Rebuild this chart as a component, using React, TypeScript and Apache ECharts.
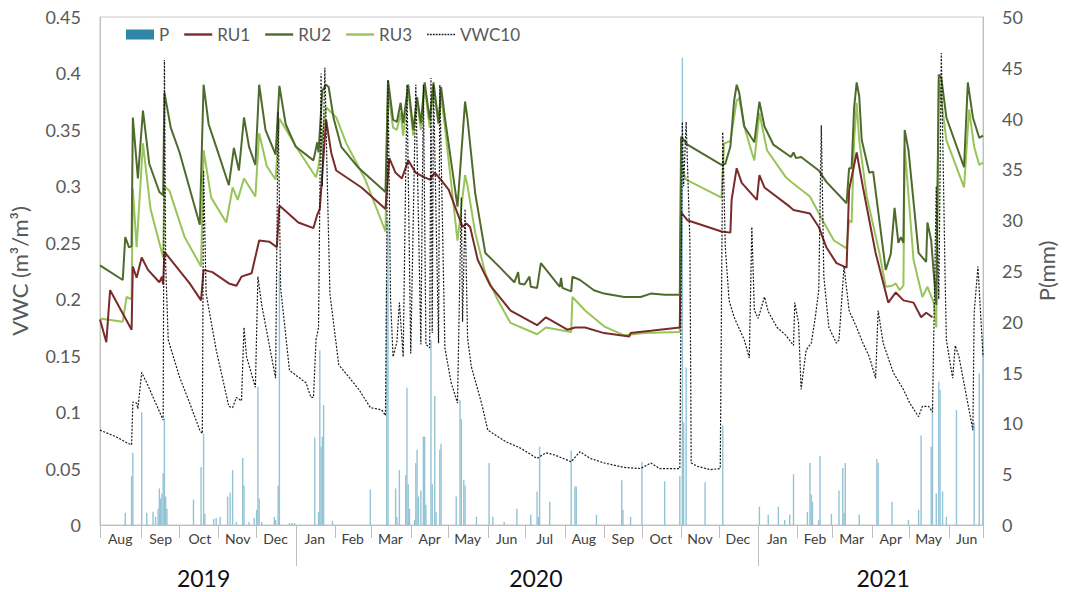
import React, { useEffect, useRef } from "react";
import * as echarts from "echarts";

type Pt = [string, number];

// ---------- data ----------
const monthNames = ["Jan", "Feb", "Mar", "Apr", "May", "Jun", "Jul", "Aug", "Sep", "Oct", "Nov", "Dec"];
const axisStart = "2019-07-30";
const axisEnd = "2021-06-28";
const monthTicks = [
  "2019-07-30", "2019-09-01", "2019-10-01", "2019-11-01", "2019-12-01", "2020-02-01", "2020-03-01",
  "2020-04-01", "2020-05-01", "2020-06-01", "2020-07-01", "2020-08-01", "2020-09-01", "2020-10-01",
  "2020-11-01", "2020-12-01", "2021-02-01", "2021-03-01", "2021-04-01", "2021-05-01", "2021-06-01", "2021-06-28",
];
const monthLabels = [
  "2019-08-15", "2019-09-16", "2019-10-17", "2019-11-16", "2019-12-16", "2020-01-16", "2020-02-15",
  "2020-03-16", "2020-04-16", "2020-05-16", "2020-06-16", "2020-07-16", "2020-08-16", "2020-09-16",
  "2020-10-16", "2020-11-16", "2020-12-16", "2021-01-16", "2021-02-15", "2021-03-16", "2021-04-16",
  "2021-05-16", "2021-06-15",
];
const yearTicks = ["2020-01-01", "2021-01-01"];
const yearLabels: Pt[] = [["2019-10-20", 2019], ["2020-07-09", 2020], ["2021-04-10", 2021]];

const P: Pt[] = [
  ["2019-08-19", 1.2], ["2019-08-24", 4.8], ["2019-08-25", 7.1], ["2019-09-01", 11.1], ["2019-09-05", 1.2],
  ["2019-09-10", 1.3], ["2019-09-12", 0.8], ["2019-09-14", 1.6], ["2019-09-15", 3.6], ["2019-09-16", 2.6],
  ["2019-09-17", 3.1], ["2019-09-18", 5.1], ["2019-09-19", 10.5], ["2019-09-20", 2.8], ["2019-09-21", 1.6],
  ["2019-10-12", 2.5], ["2019-10-18", 5.7], ["2019-10-20", 9.0], ["2019-10-21", 1.1], ["2019-10-28", 0.6],
  ["2019-10-30", 0.7], ["2019-11-02", 0.8], ["2019-11-08", 2.8], ["2019-11-10", 3.2], ["2019-11-12", 5.4],
  ["2019-11-15", 0.3], ["2019-11-20", 6.6], ["2019-11-21", 3.9], ["2019-11-25", 0.3], ["2019-11-29", 0.7],
  ["2019-12-01", 1.5], ["2019-12-02", 13.6], ["2019-12-03", 2.6], ["2019-12-05", 0.3], ["2019-12-15", 0.8],
  ["2019-12-16", 0.5], ["2019-12-18", 3.9], ["2019-12-19", 25], ["2019-12-27", 0.2], ["2019-12-29", 0.2],
  ["2019-12-31", 0.2], ["2020-01-16", 8.6], ["2020-01-19", 1.3], ["2020-01-20", 17.2], ["2020-01-21", 7.7],
  ["2020-01-22", 8.7], ["2020-01-23", 11.8], ["2020-01-30", 0.4], ["2020-02-29", 3.5], ["2020-03-13", 24],
  ["2020-03-14", 30], ["2020-03-20", 3.6], ["2020-03-21", 0.8], ["2020-03-23", 5.4], ["2020-03-28", 4.9],
  ["2020-03-29", 13.5], ["2020-03-30", 4.0], ["2020-03-31", 1.6], ["2020-04-04", 0.5], ["2020-04-05", 6.1],
  ["2020-04-06", 7.4], ["2020-04-07", 2.8], ["2020-04-09", 3.4], ["2020-04-11", 8.7], ["2020-04-12", 8.7],
  ["2020-04-13", 2.0], ["2020-04-17", 18.2], ["2020-04-18", 4.0], ["2020-04-20", 12.7], ["2020-04-21", 1.3],
  ["2020-04-24", 7.4], ["2020-04-25", 8.0], ["2020-05-07", 2.8], ["2020-05-10", 12.3], ["2020-05-11", 10.4],
  ["2020-05-13", 4.4], ["2020-05-14", 3.9], ["2020-05-23", 0.8], ["2020-06-02", 6.1], ["2020-06-05", 0.8],
  ["2020-06-14", 0.3], ["2020-06-24", 1.6], ["2020-07-05", 1.0], ["2020-07-10", 3.3], ["2020-07-11", 0.8],
  ["2020-07-12", 7.7], ["2020-07-20", 2.3], ["2020-08-06", 7.3], ["2020-08-09", 3.8], ["2020-08-10", 3.8],
  ["2020-08-26", 1.0], ["2020-09-15", 4.4], ["2020-09-16", 1.5], ["2020-09-22", 0.8], ["2020-10-01", 6.2],
  ["2020-10-19", 4.3], ["2020-10-31", 4.8], ["2020-11-02", 46], ["2020-11-03", 10.1], ["2020-11-05", 15.5],
  ["2020-11-20", 4.2], ["2020-12-04", 9.8], ["2021-01-02", 1.8], ["2021-01-09", 1.0], ["2021-01-17", 1.8],
  ["2021-01-22", 0.5], ["2021-01-26", 1.0], ["2021-01-29", 5.0], ["2021-02-09", 1.3], ["2021-02-11", 6.1],
  ["2021-02-12", 3.0], ["2021-02-13", 2.3], ["2021-02-18", 0.5], ["2021-02-19", 6.8], ["2021-02-28", 1.1],
  ["2021-03-06", 3.4], ["2021-03-09", 5.6], ["2021-03-10", 1.2], ["2021-03-11", 6.1], ["2021-03-22", 1.0],
  ["2021-04-05", 6.5], ["2021-04-06", 6.1], ["2021-04-17", 2.3], ["2021-04-30", 0.5], ["2021-05-08", 1.5],
  ["2021-05-10", 8.8], ["2021-05-18", 7.7], ["2021-05-19", 11.8], ["2021-05-22", 3.1], ["2021-05-24", 14.1],
  ["2021-05-25", 13.3], ["2021-05-27", 3.3], ["2021-05-30", 0.8], ["2021-06-07", 11.3], ["2021-06-21", 10.1],
  ["2021-06-25", 14.9], ["2021-06-28", 18.4],
];

const RU1: Pt[] = [
  ["2019-07-30", 0.182], ["2019-08-04", 0.162], ["2019-08-07", 0.208], ["2019-08-24", 0.173], ["2019-08-25", 0.229],
  ["2019-08-28", 0.219], ["2019-09-01", 0.237], ["2019-09-06", 0.226], ["2019-09-15", 0.215], ["2019-09-17", 0.22],
  ["2019-09-18", 0.213], ["2019-09-19", 0.242], ["2019-10-09", 0.214], ["2019-10-18", 0.199], ["2019-10-20", 0.226],
  ["2019-10-27", 0.224], ["2019-11-09", 0.214], ["2019-11-15", 0.212], ["2019-11-19", 0.22], ["2019-11-27", 0.223],
  ["2019-12-03", 0.252], ["2019-12-11", 0.251], ["2019-12-17", 0.246], ["2019-12-19", 0.283], ["2020-01-03", 0.268],
  ["2020-01-15", 0.263], ["2020-01-18", 0.275], ["2020-01-20", 0.28], ["2020-01-25", 0.359], ["2020-01-29", 0.33],
  ["2020-02-02", 0.314], ["2020-02-22", 0.299], ["2020-03-12", 0.28], ["2020-03-15", 0.325], ["2020-03-20", 0.312],
  ["2020-03-25", 0.307], ["2020-03-30", 0.323], ["2020-04-05", 0.312], ["2020-04-12", 0.308], ["2020-04-16", 0.306],
  ["2020-04-20", 0.312], ["2020-04-24", 0.307], ["2020-05-01", 0.297], ["2020-05-08", 0.276], ["2020-05-12", 0.264],
  ["2020-05-15", 0.267], ["2020-05-18", 0.264], ["2020-05-24", 0.235], ["2020-06-03", 0.212], ["2020-06-19", 0.19],
  ["2020-07-10", 0.177], ["2020-07-17", 0.184], ["2020-08-03", 0.173], ["2020-08-09", 0.175], ["2020-08-17", 0.175],
  ["2020-09-01", 0.17], ["2020-09-21", 0.167], ["2020-09-22", 0.17], ["2020-10-08", 0.172], ["2020-10-31", 0.175],
  ["2020-11-01", 0.277], ["2020-11-06", 0.27], ["2020-12-03", 0.26], ["2020-12-10", 0.259], ["2020-12-11", 0.288],
  ["2020-12-15", 0.316], ["2020-12-19", 0.303], ["2020-12-31", 0.288], ["2021-01-02", 0.31], ["2021-01-06", 0.299],
  ["2021-01-26", 0.282], ["2021-01-29", 0.279], ["2021-02-11", 0.276], ["2021-02-18", 0.264], ["2021-02-24", 0.246],
  ["2021-03-04", 0.232], ["2021-03-12", 0.228], ["2021-03-14", 0.297], ["2021-03-20", 0.33], ["2021-03-25", 0.299],
  ["2021-04-04", 0.241], ["2021-04-14", 0.197], ["2021-04-20", 0.206], ["2021-04-26", 0.199], ["2021-05-04", 0.197],
  ["2021-05-10", 0.184], ["2021-05-14", 0.188], ["2021-05-19", 0.184],
];

const RU2: Pt[] = [
  ["2019-07-30", 0.23], ["2019-08-17", 0.217], ["2019-08-19", 0.255], ["2019-08-22", 0.246], ["2019-08-24", 0.247],
  ["2019-08-25", 0.361], ["2019-08-29", 0.307], ["2019-09-02", 0.367], ["2019-09-07", 0.32], ["2019-09-15", 0.295],
  ["2019-09-18", 0.292], ["2019-09-19", 0.383], ["2019-09-24", 0.352], ["2019-10-01", 0.33], ["2019-10-17", 0.266],
  ["2019-10-20", 0.39], ["2019-10-24", 0.355], ["2019-10-30", 0.335], ["2019-11-09", 0.301], ["2019-11-13", 0.334],
  ["2019-11-17", 0.314], ["2019-11-21", 0.361], ["2019-11-25", 0.335], ["2019-11-30", 0.319], ["2019-12-03", 0.39],
  ["2019-12-08", 0.35], ["2019-12-16", 0.328], ["2019-12-19", 0.389], ["2019-12-24", 0.355], ["2020-01-01", 0.335],
  ["2020-01-15", 0.323], ["2020-01-18", 0.339], ["2020-01-19", 0.33], ["2020-01-22", 0.385], ["2020-01-25", 0.39],
  ["2020-01-27", 0.388], ["2020-01-31", 0.36], ["2020-02-06", 0.335], ["2020-02-20", 0.316], ["2020-03-12", 0.295],
  ["2020-03-14", 0.394], ["2020-03-18", 0.359], ["2020-03-21", 0.357], ["2020-03-24", 0.374], ["2020-03-26", 0.356],
  ["2020-03-30", 0.39], ["2020-04-03", 0.35], ["2020-04-06", 0.379], ["2020-04-09", 0.356], ["2020-04-12", 0.392],
  ["2020-04-16", 0.359], ["2020-04-19", 0.392], ["2020-04-23", 0.356], ["2020-04-25", 0.388], ["2020-04-28", 0.361],
  ["2020-05-08", 0.282], ["2020-05-14", 0.375], ["2020-05-16", 0.359], ["2020-05-22", 0.294], ["2020-05-30", 0.241],
  ["2020-06-09", 0.23], ["2020-06-22", 0.215], ["2020-06-25", 0.224], ["2020-06-26", 0.214], ["2020-06-30", 0.213],
  ["2020-07-04", 0.22], ["2020-07-05", 0.211], ["2020-07-10", 0.21], ["2020-07-13", 0.232], ["2020-07-28", 0.211],
  ["2020-07-29", 0.219], ["2020-07-30", 0.21], ["2020-08-06", 0.207], ["2020-08-07", 0.22], ["2020-08-13", 0.217],
  ["2020-08-24", 0.208], ["2020-09-01", 0.205], ["2020-09-17", 0.202], ["2020-09-30", 0.202], ["2020-10-08", 0.205],
  ["2020-10-19", 0.204], ["2020-10-31", 0.204], ["2020-11-01", 0.344], ["2020-11-06", 0.337], ["2020-12-03", 0.319],
  ["2020-12-06", 0.32], ["2020-12-10", 0.335], ["2020-12-13", 0.376], ["2020-12-15", 0.39], ["2020-12-17", 0.383],
  ["2020-12-21", 0.353], ["2020-12-29", 0.339], ["2021-01-02", 0.375], ["2021-01-06", 0.353], ["2021-01-13", 0.337],
  ["2021-01-27", 0.326], ["2021-01-29", 0.33], ["2021-01-31", 0.325], ["2021-02-04", 0.326], ["2021-02-18", 0.314],
  ["2021-02-24", 0.304], ["2021-03-12", 0.285], ["2021-03-14", 0.316], ["2021-03-16", 0.316], ["2021-03-18", 0.37],
  ["2021-03-20", 0.392], ["2021-03-22", 0.38], ["2021-03-24", 0.341], ["2021-03-30", 0.312], ["2021-04-02", 0.313],
  ["2021-04-12", 0.226], ["2021-04-16", 0.24], ["2021-04-19", 0.281], ["2021-04-22", 0.25], ["2021-04-24", 0.255],
  ["2021-04-26", 0.25], ["2021-04-27", 0.35], ["2021-04-30", 0.332], ["2021-05-08", 0.241], ["2021-05-14", 0.233],
  ["2021-05-15", 0.268], ["2021-05-18", 0.252], ["2021-05-20", 0.223], ["2021-05-22", 0.195], ["2021-05-24", 0.399],
  ["2021-05-26", 0.396], ["2021-05-30", 0.361], ["2021-06-13", 0.317], ["2021-06-16", 0.392], ["2021-06-20", 0.361],
  ["2021-06-25", 0.343], ["2021-06-28", 0.345],
];

const RU3: Pt[] = [
  ["2019-07-30", 0.183], ["2019-08-17", 0.18], ["2019-08-20", 0.202], ["2019-08-24", 0.2], ["2019-08-25", 0.298],
  ["2019-08-28", 0.246], ["2019-09-02", 0.338], ["2019-09-08", 0.28], ["2019-09-18", 0.237], ["2019-09-19", 0.3],
  ["2019-09-23", 0.296], ["2019-10-05", 0.255], ["2019-10-18", 0.229], ["2019-10-20", 0.332], ["2019-10-26", 0.29],
  ["2019-11-07", 0.268], ["2019-11-12", 0.299], ["2019-11-16", 0.288], ["2019-11-21", 0.307], ["2019-11-30", 0.291],
  ["2019-12-03", 0.347], ["2019-12-09", 0.318], ["2019-12-16", 0.306], ["2019-12-19", 0.36], ["2020-01-03", 0.332],
  ["2020-01-17", 0.308], ["2020-01-19", 0.318], ["2020-01-25", 0.37], ["2020-02-02", 0.361], ["2020-02-10", 0.338],
  ["2020-02-25", 0.306], ["2020-03-12", 0.26], ["2020-03-14", 0.385], ["2020-03-18", 0.352], ["2020-03-21", 0.35],
  ["2020-03-24", 0.365], ["2020-03-26", 0.345], ["2020-03-30", 0.385], ["2020-04-03", 0.345], ["2020-04-06", 0.375],
  ["2020-04-09", 0.35], ["2020-04-12", 0.388], ["2020-04-16", 0.352], ["2020-04-19", 0.388], ["2020-04-23", 0.355],
  ["2020-04-25", 0.38], ["2020-04-28", 0.353], ["2020-05-08", 0.252], ["2020-05-14", 0.31], ["2020-05-16", 0.3],
  ["2020-05-22", 0.259], ["2020-05-30", 0.223], ["2020-06-09", 0.199], ["2020-06-19", 0.179], ["2020-07-10", 0.169],
  ["2020-07-17", 0.175], ["2020-08-06", 0.171], ["2020-08-07", 0.202], ["2020-08-17", 0.19], ["2020-09-01", 0.176],
  ["2020-09-17", 0.168], ["2020-10-03", 0.17], ["2020-10-31", 0.171], ["2020-11-01", 0.317], ["2020-11-05", 0.306],
  ["2020-12-03", 0.29], ["2020-12-05", 0.338], ["2020-12-10", 0.34], ["2020-12-15", 0.376], ["2020-12-17", 0.378],
  ["2020-12-21", 0.353], ["2020-12-27", 0.33], ["2020-12-29", 0.323], ["2021-01-02", 0.365], ["2021-01-08", 0.332],
  ["2021-01-23", 0.308], ["2021-01-27", 0.304], ["2021-02-11", 0.291], ["2021-02-22", 0.268], ["2021-03-02", 0.252],
  ["2021-03-12", 0.245], ["2021-03-14", 0.27], ["2021-03-16", 0.268], ["2021-03-18", 0.341], ["2021-03-20", 0.374],
  ["2021-03-22", 0.341], ["2021-03-28", 0.291], ["2021-04-07", 0.241], ["2021-04-12", 0.211], ["2021-04-17", 0.212],
  ["2021-04-20", 0.214], ["2021-04-23", 0.208], ["2021-04-26", 0.212], ["2021-04-27", 0.335], ["2021-05-04", 0.235],
  ["2021-05-11", 0.202], ["2021-05-15", 0.211], ["2021-05-20", 0.197], ["2021-05-22", 0.175], ["2021-05-24", 0.394],
  ["2021-05-30", 0.341], ["2021-06-13", 0.299], ["2021-06-17", 0.368], ["2021-06-21", 0.335], ["2021-06-25", 0.319],
  ["2021-06-28", 0.321],
];

const VWC10: Pt[] = [
  ["2019-07-30", 0.084], ["2019-08-12", 0.078], ["2019-08-20", 0.073], ["2019-08-24", 0.071], ["2019-08-25", 0.109],
  ["2019-08-28", 0.108], ["2019-08-29", 0.103], ["2019-09-01", 0.135], ["2019-09-05", 0.126], ["2019-09-18", 0.093],
  ["2019-09-19", 0.412], ["2019-09-20", 0.23], ["2019-09-22", 0.164], ["2019-10-01", 0.131], ["2019-10-09", 0.108],
  ["2019-10-17", 0.084], ["2019-10-19", 0.081], ["2019-10-20", 0.314], ["2019-10-22", 0.205], ["2019-10-30", 0.155],
  ["2019-11-09", 0.105], ["2019-11-12", 0.104], ["2019-11-15", 0.113], ["2019-11-19", 0.11], ["2019-11-21", 0.175],
  ["2019-11-23", 0.149], ["2019-11-30", 0.122], ["2019-12-02", 0.22], ["2019-12-05", 0.195], ["2019-12-16", 0.13],
  ["2019-12-18", 0.366], ["2019-12-20", 0.21], ["2019-12-27", 0.137], ["2020-01-09", 0.126], ["2020-01-13", 0.113],
  ["2020-01-15", 0.113], ["2020-01-17", 0.164], ["2020-01-19", 0.175], ["2020-01-21", 0.4], ["2020-01-22", 0.3],
  ["2020-01-24", 0.405], ["2020-01-26", 0.3], ["2020-01-28", 0.205], ["2020-02-04", 0.142], ["2020-02-20", 0.12],
  ["2020-02-29", 0.104], ["2020-03-09", 0.102], ["2020-03-12", 0.097], ["2020-03-14", 0.394], ["2020-03-16", 0.2],
  ["2020-03-18", 0.149], ["2020-03-21", 0.162], ["2020-03-23", 0.197], ["2020-03-26", 0.149], ["2020-03-29", 0.39],
  ["2020-04-01", 0.152], ["2020-04-05", 0.39], ["2020-04-09", 0.16], ["2020-04-11", 0.39], ["2020-04-13", 0.16],
  ["2020-04-16", 0.157], ["2020-04-17", 0.396], ["2020-04-18", 0.17], ["2020-04-19", 0.39], ["2020-04-23", 0.161],
  ["2020-04-24", 0.39], ["2020-04-28", 0.157], ["2020-05-03", 0.126], ["2020-05-08", 0.108], ["2020-05-11", 0.29],
  ["2020-05-12", 0.18], ["2020-05-14", 0.28], ["2020-05-16", 0.165], ["2020-05-19", 0.14], ["2020-05-27", 0.108],
  ["2020-06-01", 0.084], ["2020-06-15", 0.074], ["2020-06-27", 0.068], ["2020-07-10", 0.059], ["2020-07-17", 0.064],
  ["2020-07-24", 0.062], ["2020-08-06", 0.056], ["2020-08-13", 0.065], ["2020-08-21", 0.059], ["2020-09-01", 0.055],
  ["2020-09-17", 0.051], ["2020-09-30", 0.05], ["2020-10-08", 0.055], ["2020-10-15", 0.05], ["2020-10-31", 0.05],
  ["2020-11-02", 0.357], ["2020-11-03", 0.3], ["2020-11-05", 0.357], ["2020-11-08", 0.25], ["2020-11-09", 0.055],
  ["2020-11-14", 0.052], ["2020-11-24", 0.049], ["2020-12-02", 0.05], ["2020-12-04", 0.348], ["2020-12-06", 0.246],
  ["2020-12-09", 0.199], ["2020-12-13", 0.184], ["2020-12-21", 0.164], ["2020-12-25", 0.148], ["2020-12-27", 0.264],
  ["2020-12-29", 0.19], ["2021-01-01", 0.183], ["2021-01-06", 0.202], ["2021-01-09", 0.189], ["2021-01-16", 0.175],
  ["2021-01-23", 0.168], ["2021-01-29", 0.159], ["2021-01-30", 0.197], ["2021-02-02", 0.179], ["2021-02-04", 0.12],
  ["2021-02-08", 0.155], ["2021-02-12", 0.161], ["2021-02-15", 0.182], ["2021-02-18", 0.208], ["2021-02-20", 0.354],
  ["2021-02-22", 0.22], ["2021-02-26", 0.175], ["2021-03-04", 0.161], ["2021-03-06", 0.164], ["2021-03-10", 0.229],
  ["2021-03-14", 0.19], ["2021-03-20", 0.175], ["2021-03-25", 0.161], ["2021-03-30", 0.149], ["2021-04-04", 0.13],
  ["2021-04-06", 0.19], ["2021-04-10", 0.161], ["2021-04-18", 0.135], ["2021-04-26", 0.12], ["2021-05-01", 0.108],
  ["2021-05-08", 0.096], ["2021-05-11", 0.105], ["2021-05-16", 0.105], ["2021-05-19", 0.1], ["2021-05-22", 0.3],
  ["2021-05-24", 0.2], ["2021-05-26", 0.418], ["2021-05-29", 0.22], ["2021-05-30", 0.164], ["2021-06-04", 0.13],
  ["2021-06-06", 0.159], ["2021-06-09", 0.149], ["2021-06-20", 0.084], ["2021-06-21", 0.188], ["2021-06-24", 0.229],
  ["2021-06-28", 0.149],
];

// ---------- helpers ----------
const ts = (s: string) => {
  const [y, m, d] = s.split("-").map(Number);
  return Date.UTC(y, m - 1, d);
};
const toSeries = (arr: Pt[]) => arr.map(([d, v]) => [ts(d), v]);

const FONT = "Lato, 'Liberation Sans', sans-serif";
const GRAY = "#595959";

// legend icons: a 28x10 box with a 2.4px line in the middle
const solidIcon = "path://M0,0 M28,10 M0,3.8 L28,3.8 L28,6.2 L0,6.2 Z";
const dottedIcon = (() => {
  let d = "path://M0,0 M28,10";
  for (let x = 0; x < 28; x += 3) d += ` M${x},4.3 L${x + 1.8},4.3 L${x + 1.8},5.7 L${x},5.7 Z`;
  return d;
})();

export default function App() {
  const ref = useRef<HTMLDivElement>(null);

  useEffect(() => {
    if (!ref.current) return;
    const chart = echarts.init(ref.current, undefined, { renderer: "svg" });
    const yearMap: Record<number, number> = {};
    yearLabels.forEach(([d, y]) => (yearMap[ts(d)] = y));

    chart.setOption({
      animation: false,
      backgroundColor: "#ffffff",
      textStyle: { fontFamily: FONT },
      grid: {
        left: 100, right: 78, top: 17, bottom: 67,
        show: true, borderColor: "#c9c9c9", borderWidth: 1,
      },
      legend: {
        left: 121, top: 21,
        itemWidth: 28, itemHeight: 10, itemGap: 15,
        textStyle: { fontSize: 17, color: GRAY, fontFamily: FONT },
        data: [
          { name: "P", icon: "rect", itemStyle: { color: "#2d86a6" } },
          { name: "RU1", icon: solidIcon },
          { name: "RU2", icon: solidIcon },
          { name: "RU3", icon: solidIcon },
          { name: "VWC10", icon: dottedIcon },
        ],
      },
      xAxis: [
        {
          type: "value",
          min: ts(axisStart), max: ts(axisEnd),
          axisLine: { show: true, lineStyle: { color: "#bfbfbf" } },
          axisTick: {
            show: true, length: 13, inside: false,
            lineStyle: { color: "#bfbfbf" },
            customValues: monthTicks.map(ts),
          },
          axisLabel: {
            customValues: monthLabels.map(ts),
            formatter: (v: number) => monthNames[new Date(v).getUTCMonth()],
            fontSize: 14, color: "#404040", margin: 6, fontFamily: FONT,
            hideOverlap: false,
          },
          splitLine: { show: false },
        },
        {
          type: "value",
          min: ts(axisStart), max: ts(axisEnd),
          position: "bottom",
          axisLine: { show: false },
          axisTick: {
            show: true, length: 41, inside: false,
            lineStyle: { color: "#bfbfbf" },
            customValues: yearTicks.map(ts),
          },
          axisLabel: {
            customValues: yearLabels.map(([d]) => ts(d)),
            formatter: (v: number) => String(yearMap[v] ?? ""),
            fontSize: 23, color: "#111111", margin: 41, fontFamily: FONT,
            hideOverlap: false,
          },
          splitLine: { show: false },
        },
      ],
      yAxis: [
        {
          type: "value", min: 0, max: 0.45, interval: 0.05,
          name: "VWC (m³/m³)", nameLocation: "middle", nameGap: 70,
          nameTextStyle: { fontSize: 22, color: GRAY, fontFamily: FONT },
          axisLine: { show: true, lineStyle: { color: "#bfbfbf" } },
          axisTick: { show: false },
          axisLabel: { fontSize: 18, color: GRAY, margin: 19, fontFamily: FONT },
          splitLine: { show: false },
        },
        {
          type: "value", min: 0, max: 50, interval: 5, position: "right",
          name: "P(mm)", nameLocation: "middle", nameGap: 52,
          nameTextStyle: { fontSize: 22, color: GRAY, fontFamily: FONT },
          axisLine: { show: true, lineStyle: { color: "#bfbfbf" } },
          axisTick: { show: false },
          axisLabel: { fontSize: 18, color: GRAY, margin: 19, fontFamily: FONT },
          splitLine: { show: false },
        },
      ],
      series: [
        {
          name: "P", type: "bar", xAxisIndex: 0, yAxisIndex: 1,
          barWidth: 1.4, itemStyle: { color: "#93c4d6" },
          data: toSeries(P), z: 1,
        },
        {
          name: "RU1", type: "line", xAxisIndex: 0, yAxisIndex: 0,
          symbol: "none", showSymbol: false,
          lineStyle: { color: "#7a2b2b", width: 2 }, itemStyle: { color: "#7a2b2b" },
          data: toSeries(RU1), z: 3,
        },
        {
          name: "RU2", type: "line", xAxisIndex: 0, yAxisIndex: 0,
          symbol: "none", showSymbol: false,
          lineStyle: { color: "#4e6b2c", width: 2 }, itemStyle: { color: "#4e6b2c" },
          data: toSeries(RU2), z: 3,
        },
        {
          name: "RU3", type: "line", xAxisIndex: 0, yAxisIndex: 0,
          symbol: "none", showSymbol: false,
          lineStyle: { color: "#98c45a", width: 2 }, itemStyle: { color: "#98c45a" },
          data: toSeries(RU3), z: 2,
        },
        {
          name: "VWC10", type: "line", xAxisIndex: 0, yAxisIndex: 0,
          symbol: "none", showSymbol: false,
          lineStyle: { color: "#1a1a1a", width: 1.2, type: [2, 1.5] }, itemStyle: { color: "#1a1a1a" },
          data: toSeries(VWC10), z: 4,
        },
      ],
    });
    return () => chart.dispose();
  }, []);

  return (
    <div
      ref={ref}
      style={{ position: "absolute", left: 0, top: 0, width: 1065, height: 592, background: "#fff" }}
    />
  );
}
